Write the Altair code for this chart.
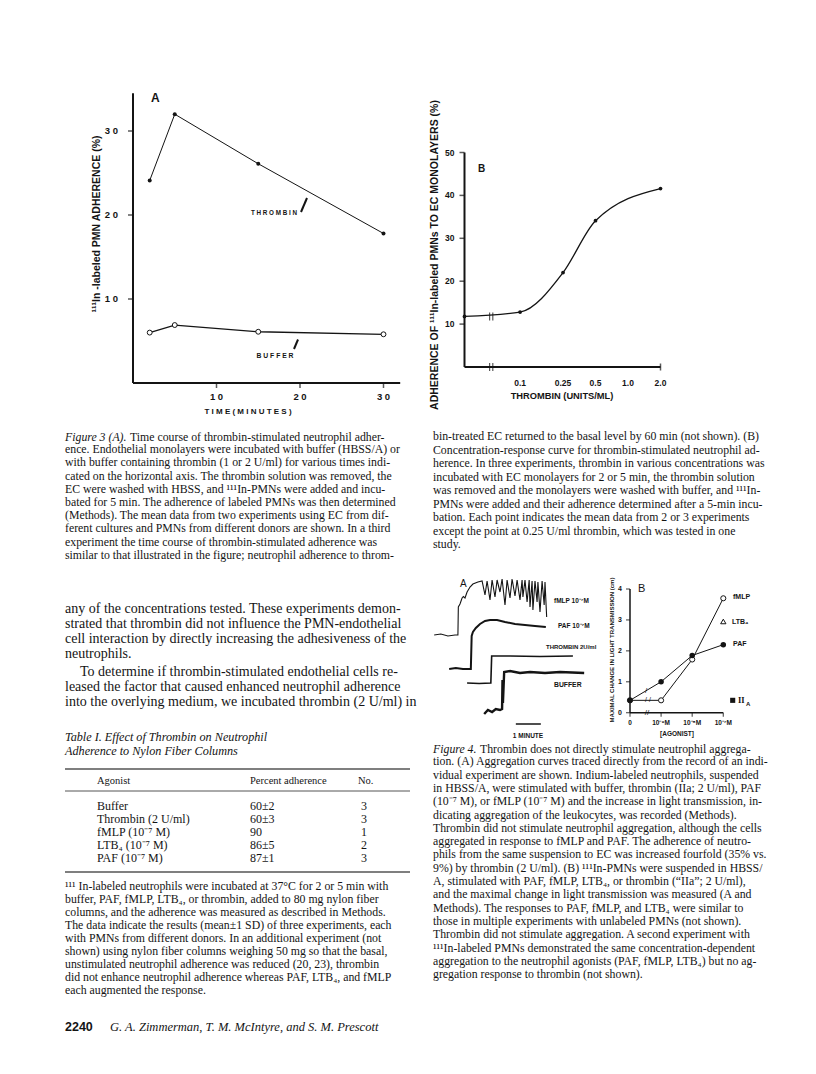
import altair as alt
import pandas as pd

OFF = 8
def P(v):
    return v - OFF

SERIF = "Liberation Serif"
SANS = "Liberation Sans"
INK = "#141414"

# ===== Figure 3A: time course of adherence =====
time_min = [2, 5, 15, 30]
thrombin_adh = [24.1, 32.0, 26.1, 17.8]
buffer_adh = [6.0, 6.9, 6.1, 5.8]
ticks3a_x = [10, 20, 30]
ticks3a_y = [10, 20, 30]

# ===== Figure 3B: concentration-response =====
thr_conc = [0.0, 0.1, 0.25, 0.5, 2.0]
thr_adh = [11.8, 12.8, 22.0, 34.1, 41.6]
ticks3b_x = [0.1, 0.25, 0.5, 1.0, 2.0]
ticks3b_xlab = ["0.1", "0.25", "0.5", "1.0", "2.0"]
ticks3b_y = [10, 20, 30, 40, 50]
break3b_conc = [0.054]

# ===== Figure 4A: aggregometer tracings (seconds, chart deflection) =====
fmlp_t = [10, 26, 43, 60, 67, 68, 72, 77, 80, 84, 89, 96, 103, 115, 125, 132, 137, 144, 149, 156,
          161, 168, 173, 180, 185, 192, 197, 204, 209, 216, 221, 223, 228, 233, 238, 240, 245, 247,
          252, 257, 259, 264, 269, 274, 276, 280]
fmlp_s = [21.0, 21.2, 20.8, 21.0, 21.0, 26.6, 27.2, 28.4, 28.7, 28.4, 29.6, 30.6, 31.2, 31.6, 31.8,
          29.0, 31.8, 28.0, 32.0, 28.6, 32.0, 29.6, 32.2, 27.0, 32.0, 28.4, 32.2, 28.8, 32.0, 28.0,
          32.0, 28.6, 32.0, 27.6, 32.0, 26.6, 31.8, 26.0, 31.8, 27.6, 31.6, 25.6, 31.8, 27.0, 31.6, 24.6]
paf_t = [46, 62, 79, 98, 100, 103, 110, 120, 132, 144, 161, 180, 204, 228, 252, 278]
paf_s = [14.2, 14.4, 14.2, 14.2, 20.8, 21.6, 22.4, 23.2, 23.8, 24.0, 24.0, 23.6, 23.2, 23.0, 22.8, 22.6]
thr_t = [89, 118, 146, 148, 192, 264, 343]
thr_s = [11.4, 11.3, 11.4, 16.8, 16.8, 16.7, 16.8]
buf_t = [130, 139, 149, 158, 168, 173, 174, 175, 178, 192, 216, 240, 276, 312, 370]
buf_s = [5.2, 6.0, 5.6, 6.2, 6.0, 6.2, 12.0, 7.4, 13.6, 13.8, 13.4, 13.6, 13.4, 13.6, 13.4]
minute_bar = [206, 266]

# ===== Figure 4B: maximal aggregation =====
agonist_conc = [0.0, 1e-9, 1e-8, 1e-7]
agonist_lab = ["0", "10⁻⁹M", "10⁻⁸M", "10⁻⁷M"]
paf_agg = [0.4, 1.0, 1.85, 2.2]
fmlp_agg = [0.4, 0.4, 1.72, 3.7]
ltb4_conc = [1e-7]
ltb4_agg = [2.95]
thrombin_agg = [0.4]
ticks4b_y = [0, 1, 2, 3, 4]

# ===== Table I =====
agonists = ["Buffer", "Thrombin (2 U/ml)", "fMLP (10⁻⁷ M)", "LTB₄ (10⁻⁷ M)", "PAF (10⁻⁷ M)"]
pct_adh = ["60±2", "60±3", "90", "86±5", "87±1"]
n_exp = ["3", "3", "1", "2", "3"]

# ===== Text =====
cap3a_lead = "Figure 3 (A)."
cap3a_rest = "Time course of thrombin-stimulated neutrophil adher-"
cap3a_lines = [
    "ence. Endothelial monolayers were incubated with buffer (HBSS/A) or",
    "with buffer containing thrombin (1 or 2 U/ml) for various times indi-",
    "cated on the horizontal axis. The thrombin solution was removed, the",
    "EC were washed with HBSS, and ¹¹¹In-PMNs were added and incu-",
    "bated for 5 min. The adherence of labeled PMNs was then determined",
    "(Methods). The mean data from two experiments using EC from dif-",
    "ferent cultures and PMNs from different donors are shown. In a third",
    "experiment the time course of thrombin-stimulated adherence was",
    "similar to that illustrated in the figure; neutrophil adherence to throm-",
]
cap3b_lines = [
    "bin-treated EC returned to the basal level by 60 min (not shown). (B)",
    "Concentration-response curve for thrombin-stimulated neutrophil ad-",
    "herence. In three experiments, thrombin in various concentrations was",
    "incubated with EC monolayers for 2 or 5 min, the thrombin solution",
    "was removed and the monolayers were washed with buffer, and ¹¹¹In-",
    "PMNs were added and their adherence determined after a 5-min incu-",
    "bation. Each point indicates the mean data from 2 or 3 experiments",
    "except the point at 0.25 U/ml thrombin, which was tested in one",
    "study.",
]
body1_lines = [
    "any of the concentrations tested. These experiments demon-",
    "strated that thrombin did not influence the PMN-endothelial",
    "cell interaction by directly increasing the adhesiveness of the",
    "neutrophils.",
]
body2_first = "To determine if thrombin-stimulated endothelial cells re-"
body2_lines = [
    "leased the factor that caused enhanced neutrophil adherence",
    "into the overlying medium, we incubated thrombin (2 U/ml) in",
]
table_title = ["Table I. Effect of Thrombin on Neutrophil", "Adherence to Nylon Fiber Columns"]
table_head = ["Agonist", "Percent adherence", "No."]
foot_lines = [
    "¹¹¹ In-labeled neutrophils were incubated at 37°C for 2 or 5 min with",
    "buffer, PAF, fMLP, LTB₄, or thrombin, added to 80 mg nylon fiber",
    "columns, and the adherence was measured as described in Methods.",
    "The data indicate the results (mean±1 SD) of three experiments, each",
    "with PMNs from different donors. In an additional experiment (not",
    "shown) using nylon fiber columns weighing 50 mg so that the basal,",
    "unstimulated neutrophil adherence was reduced (20, 23), thrombin",
    "did not enhance neutrophil adherence whereas PAF, LTB₄, and fMLP",
    "each augmented the response.",
]
cap4_lead = "Figure 4."
cap4_rest = "Thrombin does not directly stimulate neutrophil aggrega-"
cap4_lines = [
    "tion. (A) Aggregation curves traced directly from the record of an indi-",
    "vidual experiment are shown. Indium-labeled neutrophils, suspended",
    "in HBSS/A, were stimulated with buffer, thrombin (IIa; 2 U/ml), PAF",
    "(10⁻⁷ M), or fMLP (10⁻⁷ M) and the increase in light transmission, in-",
    "dicating aggregation of the leukocytes, was recorded (Methods).",
    "Thrombin did not stimulate neutrophil aggregation, although the cells",
    "aggregated in response to fMLP and PAF. The adherence of neutro-",
    "phils from the same suspension to EC was increased fourfold (35% vs.",
    "9%) by thrombin (2 U/ml). (B) ¹¹¹In-PMNs were suspended in HBSS/",
    "A, stimulated with PAF, fMLP, LTB₄, or thrombin (“IIa”; 2 U/ml),",
    "and the maximal change in light transmission was measured (A and",
    "Methods). The responses to PAF, fMLP, and LTB₄ were similar to",
    "those in multiple experiments with unlabeled PMNs (not shown).",
    "Thrombin did not stimulate aggregation. A second experiment with",
    "¹¹¹In-labeled PMNs demonstrated the same concentration-dependent",
    "aggregation to the neutrophil agonists (PAF, fMLP, LTB₄) but no ag-",
    "gregation response to thrombin (not shown).",
]
footer_num = "2240"
footer_authors = "G. A. Zimmerman, T. M. McIntyre, and S. M. Prescott"

# ================= helpers =================
ONE = pd.DataFrame({"k": [0]})
L = []

def S(domain, rng):
    return alt.Scale(domain=domain, range=rng, nice=False, zero=False)

def qx(f, s):
    return alt.X(f, type="quantitative", scale=s, axis=None)

def qy(f, s):
    return alt.Y(f, type="quantitative", scale=s, axis=None)

def tx(text, x, y, size, font=SANS, weight="normal", style="normal", align="left",
       baseline="middle", angle=None, lh=None):
    kw = dict(align=align, baseline=baseline, font=font, fontSize=size,
              fontWeight=weight, fontStyle=style, color=INK)
    if angle is not None:
        kw["angle"] = angle
    if lh is not None:
        kw["lineHeight"] = lh
    return alt.Chart(ONE).mark_text(**kw).encode(
        x=alt.value(P(x)), y=alt.value(P(y)), text=alt.value(text))

def block(lines, x, y_first, size, lh, style="normal"):
    return tx(lines, x, y_first - 0.5 * size, size, font=SERIF, style=style,
              baseline="top", lh=lh)

def seg(x1, y1, x2, y2, w=1.0, color=INK):
    return alt.Chart(ONE).mark_rule(color=color, strokeWidth=w).encode(
        x=alt.value(P(x1)), y=alt.value(P(y1)), x2=alt.value(P(x2)), y2=alt.value(P(y2)))

# ================= Figure 3A =================
sx = S([0, 32], [P(133), P(400.2)])
sy = S([0, 34.5], [P(383), P(93.2)])
ax = pd.DataFrame({"x": [0, 0], "x2": [0, 32], "y": [0, 0], "y2": [34.5, 0]})
L.append(alt.Chart(ax).mark_rule(color=INK, strokeWidth=2).encode(
    x=qx("x", sx), x2="x2", y=qy("y", sy), y2="y2"))
yt = pd.DataFrame({"v": ticks3a_y, "x": 0, "lab": [" ".join(str(v)) for v in ticks3a_y]})
L.append(alt.Chart(yt).mark_tick(orient="horizontal", size=5, thickness=1.5, xOffset=-2.5,
                                 color=INK).encode(x=qx("x", sx), y=qy("v", sy)))
L.append(alt.Chart(yt).mark_text(align="right", baseline="middle", dx=-15, font=SANS,
                                 fontWeight="bold", fontSize=9.5, color=INK).encode(
    x=qx("x", sx), y=qy("v", sy), text="lab:N"))
xt = pd.DataFrame({"v": ticks3a_x, "y": 0, "lab": [" ".join(str(v)) for v in ticks3a_x]})
L.append(alt.Chart(xt).mark_tick(orient="vertical", size=5, thickness=1.5, yOffset=2.5,
                                 color=INK).encode(x=qx("v", sx), y=qy("y", sy)))
L.append(alt.Chart(xt).mark_text(align="center", baseline="middle", dy=14, font=SANS,
                                 fontWeight="bold", fontSize=9.5, color=INK).encode(
    x=qx("v", sx), y=qy("y", sy), text="lab:N"))
d_thr = pd.DataFrame({"t": time_min, "v": thrombin_adh})
d_buf = pd.DataFrame({"t": time_min, "v": buffer_adh})
L.append(alt.Chart(d_thr).mark_line(color=INK, strokeWidth=1).encode(x=qx("t", sx), y=qy("v", sy)))
L.append(alt.Chart(d_thr).mark_circle(color=INK, size=16, opacity=1).encode(x=qx("t", sx), y=qy("v", sy)))
L.append(alt.Chart(d_buf).mark_line(color=INK, strokeWidth=1.3).encode(x=qx("t", sx), y=qy("v", sy)))
L.append(alt.Chart(d_buf).mark_point(shape="circle", filled=True, fill="white", stroke=INK,
                                     strokeWidth=1, size=24, opacity=1).encode(
    x=qx("t", sx), y=qy("v", sy)))
L.append(tx("A", 151, 98, 12, weight="bold"))
L.append(tx("T H R O M B I N", 274, 213, 6.3, weight="bold", align="center"))
L.append(seg(301, 212, 307, 198, w=2))
L.append(tx("B U F F E R", 275, 356, 6.8, weight="bold", align="center"))
L.append(seg(294, 349, 298, 339.5, w=2))
L.append(tx("T I M E   ( M I N U T E S )", 248, 412, 8, weight="bold", align="center"))
L.append(tx("¹¹¹In -labeled  PMN  ADHERENCE  (%)", 97, 224, 10.5, weight="bold",
            align="center", angle=270))

# ================= Figure 3B =================
O3B = -1.515
TOP3B = 0.30103
sx = S([O3B, TOP3B], [P(464.5), P(660.5)])
sy = S([0, 50], [P(367), P(152.5)])
logpos = f"datum.c > 0 ? log(datum.c) / LN10 : {O3B}"
ax = pd.DataFrame({"x": [O3B, O3B], "x2": [O3B, TOP3B], "y": [0, 0], "y2": [50, 0]})
L.append(alt.Chart(ax).mark_rule(color=INK, strokeWidth=2).encode(
    x=qx("x", sx), x2="x2", y=qy("y", sy), y2="y2"))
yt = pd.DataFrame({"v": ticks3b_y, "x": O3B, "lab": [str(v) for v in ticks3b_y]})
L.append(alt.Chart(yt).mark_tick(orient="horizontal", size=5, thickness=1.5, xOffset=-2.5,
                                 color=INK).encode(x=qx("x", sx), y=qy("v", sy)))
L.append(alt.Chart(yt).mark_text(align="right", baseline="middle", dx=-10, font=SANS,
                                 fontWeight="bold", fontSize=8.5, color=INK).encode(
    x=qx("x", sx), y=qy("v", sy), text="lab:N"))
xt = pd.DataFrame({"c": ticks3b_x, "y": 0, "lab": ticks3b_xlab})
L.append(alt.Chart(xt).transform_calculate(pos=logpos).mark_text(
    align="center", baseline="middle", dy=16, font=SANS, fontWeight="bold", fontSize=8.5,
    color=INK).encode(x=qx("pos", sx), y=qy("y", sy), text="lab:N"))
endt = pd.DataFrame({"c": [ticks3b_x[-1]], "y": 0})
L.append(alt.Chart(endt).transform_calculate(pos=logpos).mark_tick(
    orient="vertical", size=7, thickness=1.5, color=INK).encode(x=qx("pos", sx), y=qy("y", sy)))
brk = pd.DataFrame({"c": break3b_conc * 4, "y": [0, 0, thr_adh[0], thr_adh[0]],
                    "o": [-1.5, 1.5, -1.5, 1.5]})
for o in (-1.6, 1.6):
    L.append(alt.Chart(brk[brk.o * o > 0]).transform_calculate(pos=logpos).mark_tick(
        orient="vertical", size=8, thickness=1.2, xOffset=o, color=INK).encode(
        x=qx("pos", sx), y=qy("y", sy)))
d3b = pd.DataFrame({"c": thr_conc, "v": thr_adh})
L.append(alt.Chart(d3b).transform_calculate(pos=logpos).mark_line(
    color=INK, strokeWidth=1.3, interpolate="monotone").encode(x=qx("pos", sx), y=qy("v", sy)))
L.append(alt.Chart(d3b).transform_calculate(pos=logpos).mark_circle(
    color=INK, size=14, opacity=1).encode(x=qx("pos", sx), y=qy("v", sy)))
L.append(tx("B", 478, 169, 10, weight="bold"))
L.append(tx("THROMBIN  (UNITS/ML)", 562, 396, 9.3, weight="bold", align="center"))
L.append(tx("ADHERENCE OF ¹¹¹In-labeled PMNs TO EC MONOLAYERS (%)", 435, 255, 10.5,
            weight="bold", align="center", angle=270))

# ================= Figure 4A =================
sx = S([0, 400], [P(430), P(596.67)])
sy = S([0, 34], [P(740), P(570)])
for tt, ss, w in ((fmlp_t, fmlp_s, 1.1), (paf_t, paf_s, 2.0), (thr_t, thr_s, 1.6), (buf_t, buf_s, 2.4)):
    d = pd.DataFrame({"t": tt, "s": ss})
    L.append(alt.Chart(d).mark_line(color=INK, strokeWidth=w).encode(x=qx("t", sx), y=qy("s", sy)))
bar = pd.DataFrame({"t": [minute_bar[0]], "t2": [minute_bar[1]], "s": [3.2]})
L.append(alt.Chart(bar).mark_rule(color=INK, strokeWidth=1.5).encode(
    x=qx("t", sx), x2="t2", y=qy("s", sy)))
L.append(tx("1 MINUTE", 528, 736, 6.5, weight="bold", align="center"))
L.append(tx("A", 460, 584, 10))
L.append(tx("fMLP 10⁻⁷M", 554, 601, 6.5, weight="bold"))
L.append(tx("PAF 10⁻⁷M", 558, 626, 6.5, weight="bold"))
L.append(tx("THROMBIN  2U/ml", 546, 647, 6.0, weight="bold"))
L.append(tx("BUFFER", 554, 685, 6.8, weight="bold"))

# ================= Figure 4B =================
O4B = -10
sx = S([O4B, -7], [P(630), P(723.3)])
sy = S([0, 4], [P(712.7), P(589)])
lp4 = f"datum.c > 0 ? log(datum.c) / LN10 : {O4B}"
ax = pd.DataFrame({"x": [O4B, O4B], "x2": [O4B, -7], "y": [0, 0], "y2": [4, 0]})
L.append(alt.Chart(ax).mark_rule(color=INK, strokeWidth=1.5).encode(
    x=qx("x", sx), x2="x2", y=qy("y", sy), y2="y2"))
yt = pd.DataFrame({"v": ticks4b_y, "x": O4B, "lab": [str(v) for v in ticks4b_y]})
L.append(alt.Chart(yt).mark_tick(orient="horizontal", size=4, thickness=1.2, xOffset=-2,
                                 color=INK).encode(x=qx("x", sx), y=qy("v", sy)))
L.append(alt.Chart(yt).mark_text(align="right", baseline="middle", dx=-8, font=SANS,
                                 fontWeight="bold", fontSize=7, color=INK).encode(
    x=qx("x", sx), y=qy("v", sy), text="lab:N"))
xt = pd.DataFrame({"c": agonist_conc, "y": 0, "lab": agonist_lab})
L.append(alt.Chart(xt).transform_calculate(pos=lp4).mark_tick(
    orient="vertical", size=4, thickness=1.2, yOffset=2, color=INK).encode(
    x=qx("pos", sx), y=qy("y", sy)))
L.append(alt.Chart(xt).transform_calculate(pos=lp4).mark_text(
    align="center", baseline="middle", dy=10.5, font=SANS, fontWeight="bold", fontSize=6.5,
    color=INK).encode(x=qx("pos", sx), y=qy("y", sy), text="lab:N"))
d_f = pd.DataFrame({"c": agonist_conc, "v": fmlp_agg})
d_p = pd.DataFrame({"c": agonist_conc, "v": paf_agg})
L.append(alt.Chart(d_f).transform_calculate(pos=lp4).mark_line(color=INK, strokeWidth=1).encode(
    x=qx("pos", sx), y=qy("v", sy)))
L.append(alt.Chart(d_p).transform_calculate(pos=lp4).mark_line(color=INK, strokeWidth=1).encode(
    x=qx("pos", sx), y=qy("v", sy)))
L.append(alt.Chart(d_f).transform_calculate(pos=lp4).mark_point(
    shape="circle", filled=True, fill="white", stroke=INK, strokeWidth=1, size=26, opacity=1).encode(
    x=qx("pos", sx), y=qy("v", sy)))
L.append(alt.Chart(d_p).transform_calculate(pos=lp4).mark_circle(
    color=INK, size=30, opacity=1).encode(x=qx("pos", sx), y=qy("v", sy)))
d_l = pd.DataFrame({"c": ltb4_conc, "v": ltb4_agg})
L.append(alt.Chart(d_l).transform_calculate(pos=lp4).mark_point(
    shape="triangle-up", filled=True, fill="white", stroke=INK, strokeWidth=1, size=28, opacity=1).encode(
    x=qx("pos", sx), y=qy("v", sy)))
d_ii = pd.DataFrame({"v": thrombin_agg})
L.append(alt.Chart(d_ii).mark_square(color=INK, size=26, opacity=1).encode(
    x=alt.value(P(732.7)), y=qy("v", sy)))
L.append(tx("fMLP", 733, 597, 7, weight="bold"))
L.append(tx("LTB₄", 732, 622, 7, weight="bold"))
L.append(tx("PAF", 733, 644, 7, weight="bold"))
L.append(tx("II", 738, 700, 8.5, font=SERIF, weight="bold"))
L.append(tx("A", 746, 703.5, 6, weight="bold"))
L.append(tx("//", 647, 713, 8, align="center"))
L.append(tx("/", 646, 690.5, 8, align="center"))
L.append(tx("/ /", 648, 700, 7, align="center"))
L.append(tx("B", 638, 589, 11))
L.append(tx("[AGONIST]", 677, 734, 6.5, weight="bold", align="center"))
L.append(tx("MAXIMAL  CHANGE  IN  LIGHT  TRANSMISSION  (cm)", 611.5, 650, 6.0,
            weight="bold", align="center", angle=270))

# ================= Text: left column =================
XL = 65
XR = 433
CAP = 11.8
L.append(tx(cap3a_lead, XL, 437, CAP, font=SERIF, style="italic"))
L.append(tx(cap3a_rest, XL + 65, 437, CAP, font=SERIF))
L.append(block(cap3a_lines, XL, 450.2, CAP, 13.2))
BODY = 14
L.append(block(body1_lines, XL, 609, BODY, 15))
L.append(tx(body2_first, XL + 15, 672, BODY, font=SERIF))
L.append(block(body2_lines, XL, 687, BODY, 15))
L.append(block(table_title, XL, 737, 12.2, 14, style="italic"))
L.append(seg(XL, 769, 410, 769, w=1.6, color="#555555"))
L.append(tx(table_head[0], XL + 32, 781, 10.5, font=SERIF))
L.append(tx(table_head[1], XL + 185, 781, 10.5, font=SERIF))
L.append(tx(table_head[2], XL + 293, 781, 10.5, font=SERIF))
L.append(seg(XL, 791, 410, 791, w=1, color="#555555"))
tab = pd.DataFrame({"i": list(range(len(agonists))), "a": agonists, "p": pct_adh, "n": n_exp})
sy_tab = S([0, 4], [P(806), P(858)])
for col, xx in (("a", XL + 32), ("p", XL + 185), ("n", XL + 296)):
    L.append(alt.Chart(tab).mark_text(align="left", baseline="middle", font=SERIF, fontSize=12,
                                      color=INK).encode(
        x=alt.value(P(xx)), y=qy("i", sy_tab), text=f"{col}:N"))
L.append(seg(XL, 872, 410, 872, w=1.6, color="#555555"))
L.append(block(foot_lines, XL, 887, CAP, 13.0))
L.append(tx(footer_num, XL, 1027, 12.5, weight="bold"))
L.append(tx(footer_authors, XL + 45, 1027, 12.5, font=SERIF, style="italic"))

# ================= Text: right column =================
L.append(block(cap3b_lines, XR, 437, CAP, 13.5))
L.append(tx(cap4_lead, XR, 749, CAP, font=SERIF, style="italic"))
L.append(tx(cap4_rest, XR + 47, 749, CAP, font=SERIF))
L.append(block(cap4_lines, XR, 762.3, CAP, 13.3))

chart = alt.layer(*L).resolve_scale(x="independent", y="independent").properties(
    width=800, height=1050, padding=0,
    autosize=alt.AutoSizeParams(type="none"), background="white"
).configure_view(stroke=None)

chart.save("out.html", embed_options={"renderer": "svg", "actions": False})
